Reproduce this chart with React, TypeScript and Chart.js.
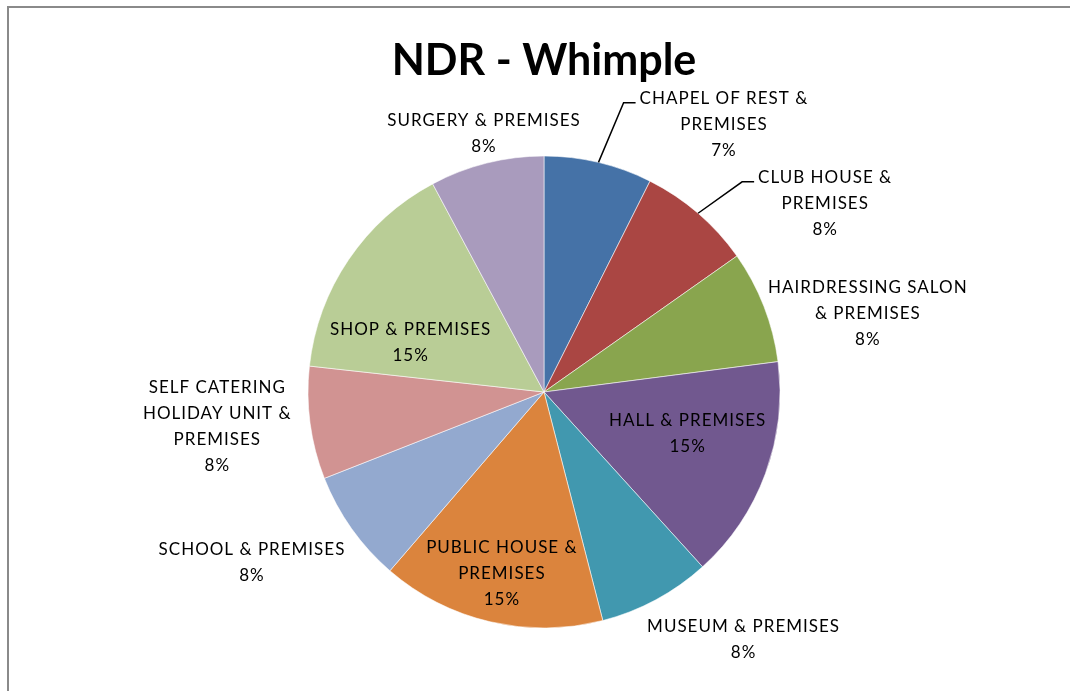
import React, { useEffect, useRef } from "react";
import { Chart, registerables } from "chart.js";

Chart.register(...registerables);

const TITLE = "NDR - Whimple";

const categoryLines: string[][] = [
  ["CHAPEL OF REST &", "PREMISES"],
  ["CLUB HOUSE &", "PREMISES"],
  ["HAIRDRESSING SALON", "& PREMISES"],
  ["HALL & PREMISES"],
  ["MUSEUM & PREMISES"],
  ["PUBLIC HOUSE &", "PREMISES"],
  ["SCHOOL & PREMISES"],
  ["SELF CATERING", "HOLIDAY UNIT &", "PREMISES"],
  ["SHOP & PREMISES"],
  ["SURGERY & PREMISES"],
];
const categories = categoryLines.map((l) => l.join(" "));

const values = [7.4, 7.8, 7.7, 15.3, 7.7, 15.3, 7.7, 7.7, 15.4, 7.8];

const colors = [
  "#4572A7",
  "#AA4643",
  "#89A54E",
  "#71588F",
  "#4198AF",
  "#DB843D",
  "#93A9CF",
  "#D19392",
  "#B9CD96",
  "#A99BBD",
];

// label placement: angle shift from slice middle (deg), distance in radii, leader line
const labelAngleShift = [20.5, 15.3, 7.5, -4.3, -10.6, -0.1, 5.2, 1.6, -13.7, 1.0];
const labelDistance = [1.369, 1.436, 1.413, 0.633, 1.346, 0.789, 1.431, 1.392, 0.603, 1.125];
const labelLeader = [true, true, false, false, false, false, false, false, false, false];

const LABEL_FONT = "17px Lato, 'Open Sans', sans-serif";
const TITLE_FONT = "bold 43px Lato, 'Open Sans', sans-serif";
const LINE_H = 26;

const labelPlugin = {
  id: "pieLabels",
  afterDatasetsDraw(chart: any) {
    const ctx = chart.ctx as CanvasRenderingContext2D;
    const meta = chart.getDatasetMeta(0);
    const total = values.reduce((a, b) => a + b, 0);
    ctx.save();
    // title
    ctx.font = TITLE_FONT;
    ctx.fillStyle = "#000";
    ctx.textAlign = "center";
    ctx.textBaseline = "alphabetic";
    const cx0 = meta.data[0].x;
    ctx.fillText(TITLE, cx0, 75);

    ctx.font = LABEL_FONT;
    (ctx as any).letterSpacing = "1px";
    meta.data.forEach((arc: any, i: number) => {
      const { x, y, startAngle, endAngle, outerRadius } = arc.getProps(
        ["x", "y", "startAngle", "endAngle", "outerRadius"],
        true
      );
      const mid = (startAngle + endAngle) / 2;
      const a = mid + (labelAngleShift[i] * Math.PI) / 180;
      const d = labelDistance[i] * outerRadius;
      const bx = x + Math.cos(a) * d;
      const by = y + Math.sin(a) * d;
      const pct = Math.round((values[i] / total) * 100) + "%";
      const lines = [...categoryLines[i], pct];
      const n = lines.length;
      const maxW = Math.max(...lines.map((l) => ctx.measureText(l).width));
      const firstBase = by - ((n - 1) * LINE_H) / 2 + 6;
      ctx.fillStyle = "#000";
      ctx.textAlign = "center";
      lines.forEach((l, k) => ctx.fillText(l, bx, firstBase + k * LINE_H));
      if (labelLeader[i]) {
        const left = bx - maxW / 2;
        const sx = x + Math.cos(mid) * outerRadius;
        const sy = y + Math.sin(mid) * outerRadius;
        const ly = firstBase - 1;
        ctx.beginPath();
        ctx.strokeStyle = "#000";
        ctx.lineWidth = 1.5;
        ctx.moveTo(sx, sy);
        ctx.lineTo(left - 16, ly);
        ctx.lineTo(left - 4, ly);
        ctx.stroke();
      }
    });
    ctx.restore();
  },
};

export default function App() {
  const ref = useRef<HTMLCanvasElement | null>(null);
  useEffect(() => {
    if (!ref.current) return;
    const chart = new Chart(ref.current, {
      type: "pie",
      data: {
        labels: categories,
        datasets: [
          {
            data: values,
            backgroundColor: colors,
            borderColor: "rgba(255,255,255,0.55)",
            borderWidth: 1,
          },
        ],
      },
      options: {
        animation: false,
        responsive: false,
        radius: 236,
        layout: { padding: { left: 18, right: 0, top: 93, bottom: 0 } },
        plugins: {
          legend: { display: false },
          tooltip: { enabled: false },
          title: { display: false },
        },
      } as any,
      plugins: [labelPlugin],
    });
    return () => chart.destroy();
  }, []);
  return (
    <div style={{ position: "fixed", left: 0, top: 0, width: 1070, height: 691, overflow: "hidden", background: "#fff" }}>
      <canvas ref={ref} width={1070} height={691} style={{ position: "absolute", left: 0, top: 0, width: 1070, height: 691 }} />
      <div
        style={{
          position: "absolute",
          left: 7,
          top: 6,
          width: 1200,
          height: 800,
          border: "2px solid #8a8a8a",
          pointerEvents: "none",
        }}
      />
    </div>
  );
}
